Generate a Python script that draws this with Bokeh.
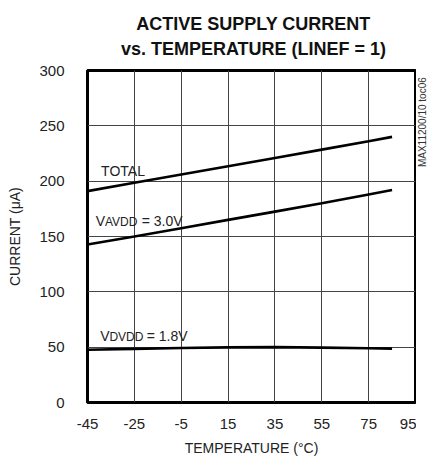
import math
from bokeh.plotting import figure
from bokeh.layouts import row, column
from bokeh.models import Range1d, FixedTicker, Label
from bokeh.embed import file_html
from bokeh.resources import INLINE

FONT = "Liberation Sans"

# ---- data ----
temperature = [-45, -25, -5, 15, 35, 55, 75, 85]
total_current = [191, 198.5, 206, 213.5, 221, 228.5, 236, 240]
avdd_current = [142.7, 150, 157.5, 165, 172.5, 180, 188, 192]
dvdd_current = [47.7, 48.5, 49.3, 49.8, 50, 49.6, 49, 48.7]

x_ticks = [-45, -25, -5, 15, 35, 55, 75, 95]
x_tick_labels = ["-45", "-25", "-5", "15", "35", "55", "75", "95"]
y_ticks = [0, 50, 100, 150, 200, 250, 300]
y_tick_labels = ["0", "50", "100", "150", "200", "250", "300"]

title_lines = ["ACTIVE SUPPLY CURRENT", "vs. TEMPERATURE (LINEF = 1)"]
x_label = "TEMPERATURE (°C)"
y_label = "CURRENT (μA)"
side_note = "MAX11200/10 toc06"

W, TH, MH, NW = 428, 62, 396, 12   # total width, title strip, main height, note strip
TOP = 8                             # gap between title strip and plot frame


def bare(width, height, xr, yr):
    f = figure(width=width, height=height, output_backend="svg", toolbar_location=None,
               x_range=Range1d(*xr), y_range=Range1d(*yr),
               min_border_left=0, min_border_right=0, min_border_top=0,
               min_border_bottom=0, x_axis_type=None, y_axis_type=None)
    f.outline_line_color = None
    f.grid.visible = False
    f.background_fill_color = "white"
    f.border_fill_color = "white"
    return f


# ---- title strip ----
t = bare(W, TH, (0, W), (0, TH))
t.add_layout(Label(x=253, y=TH - 23.5, text=title_lines[0], text_align="center",
                   text_baseline="alphabetic", text_font=FONT, text_font_size="18px",
                   text_font_style="bold", text_color="#111111"))
t.add_layout(Label(x=253, y=TH - 48, text=title_lines[1], text_align="center",
                   text_baseline="alphabetic", text_font=FONT, text_font_size="18px",
                   text_font_style="bold", text_color="#111111"))

# ---- main chart ----
p = figure(width=W - NW, height=MH, output_backend="svg", toolbar_location=None,
           x_range=Range1d(-45, 95), y_range=Range1d(0, 300),
           min_border_left=87, min_border_right=1, min_border_top=TOP,
           min_border_bottom=56)

p.background_fill_color = "white"
p.border_fill_color = "white"
p.outline_line_color = "black"
p.outline_line_width = 3

for ax in (p.xaxis[0], p.yaxis[0]):
    ax.axis_line_color = None
    ax.major_tick_line_color = None
    ax.minor_tick_line_color = None
    ax.major_label_text_font = FONT
    ax.major_label_text_font_size = "15px"
    ax.major_label_text_color = "#222222"
    ax.axis_label_text_font = FONT
    ax.axis_label_text_font_size = "14px"
    ax.axis_label_text_font_style = "normal"
    ax.axis_label_text_color = "#222222"

p.xaxis.ticker = FixedTicker(ticks=x_ticks)
p.yaxis.ticker = FixedTicker(ticks=y_ticks)
p.xaxis.major_label_overrides = dict(zip(x_ticks, x_tick_labels))
p.yaxis.major_label_overrides = dict(zip(y_ticks, y_tick_labels))
p.xaxis.axis_label = x_label
p.yaxis.axis_label = y_label
p.xaxis.major_label_standoff = 10
p.yaxis.major_label_standoff = 17
p.xaxis.axis_label_standoff = 8
p.yaxis.axis_label_standoff = 13

p.xgrid.ticker = FixedTicker(ticks=x_ticks)
p.ygrid.ticker = FixedTicker(ticks=y_ticks)
p.grid.grid_line_color = "#444444"
p.grid.grid_line_width = 1

for series in (total_current, avdd_current, dvdd_current):
    p.line(temperature, series, line_color="black", line_width=2.6)


def lab(x, y, text, size="14px", x_offset=0):
    p.add_layout(Label(x=x, y=y, text=text, text_font=FONT, text_font_size=size,
                       text_align="left", text_baseline="alphabetic",
                       x_offset=x_offset, text_color="#222222"))


# in-plot series labels
lab(-39.2, 209.3, "TOTAL")
lab(-41.5, 164.1, "V")
lab(-41.5, 163.3, "AVDD", size="12px", x_offset=9.3)
lab(-41.5, 164.1, "= 3.0V", x_offset=46)
lab(-39.6, 59.7, "V")
lab(-39.6, 58.9, "DVDD", size="12px", x_offset=9.3)
lab(-39.6, 59.7, "= 1.8V", x_offset=46.5)

# ---- narrow strip on the right carrying the vertical note (reads bottom to top) ----
note = bare(NW, MH, (0, NW), (0, MH))
note.add_layout(Label(x=NW / 2, y=MH - TOP, text=side_note, angle=math.pi / 2,
                      text_align="right", text_baseline="middle", text_font=FONT,
                      text_font_size="10px", text_color="#333333"))

layout = column(t, row(p, note, spacing=0), spacing=0)
open("out.html", "w").write(file_html(layout, INLINE))
